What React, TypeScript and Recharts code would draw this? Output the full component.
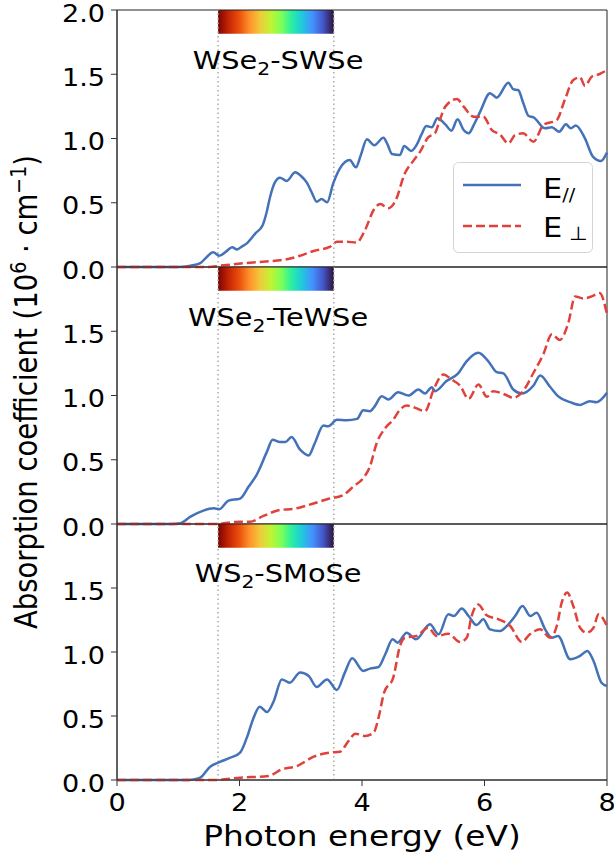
import React from 'react';
import { LineChart, Line, XAxis, YAxis, ReferenceArea, ReferenceLine, ReferenceDot, Legend, Label } from 'recharts';

type Pt = [number, number];

// ---------- data (photon energy eV, absorption 10^6 cm^-1) ----------
const xTicks = [0, 2, 4, 6, 8];
const yTicksTop = [0, 0.5, 1.0, 1.5, 2.0];
const yTicksLower = [0, 0.5, 1.0, 1.5];
const titles = ['WSe₂-SWSe', 'WSe₂-TeWSe', 'WS₂-SMoSe'];
const spectrumRange = [1.65, 3.54];

const swsePar: Pt[] = [[0,0],[1.0,0],[1.2,0.01],[1.36,0.03],[1.47,0.08],[1.57,0.114],[1.67,0.088],[1.78,0.12],[1.88,0.153],[1.96,0.137],[2.04,0.16],[2.12,0.184],[2.26,0.262],[2.38,0.327],[2.44,0.42],[2.5,0.547],[2.58,0.66],[2.66,0.695],[2.77,0.67],[2.91,0.737],[3.0,0.71],[3.1,0.656],[3.18,0.58],[3.26,0.508],[3.34,0.529],[3.43,0.503],[3.53,0.651],[3.64,0.768],[3.8,0.833],[3.9,0.776],[3.98,0.87],[4.08,0.994],[4.2,0.947],[4.35,1.006],[4.42,0.95],[4.49,0.879],[4.62,0.872],[4.69,0.942],[4.8,0.903],[4.89,0.949],[4.97,1.03],[5.05,1.097],[5.14,1.087],[5.23,1.157],[5.36,1.11],[5.46,1.061],[5.56,1.149],[5.66,1.066],[5.74,1.04],[5.83,1.11],[5.93,1.209],[6.09,1.352],[6.2,1.318],[6.39,1.434],[6.47,1.383],[6.55,1.377],[6.63,1.28],[6.72,1.175],[6.8,1.165],[6.99,1.079],[7.1,1.087],[7.22,1.053],[7.33,1.11],[7.41,1.079],[7.49,1.102],[7.64,1.001],[7.77,0.859],[7.9,0.825],[8.0,0.89]];
const swsePerp: Pt[] = [[0,0],[1.5,0],[1.68,0.01],[2.17,0.034],[2.77,0.06],[2.99,0.088],[3.21,0.125],[3.48,0.158],[3.59,0.197],[3.75,0.197],[3.91,0.19],[4.05,0.288],[4.19,0.444],[4.3,0.49],[4.43,0.457],[4.54,0.508],[4.7,0.729],[4.84,0.828],[4.95,0.898],[5.08,1.009],[5.19,1.04],[5.27,1.144],[5.36,1.248],[5.55,1.307],[5.66,1.248],[5.82,1.17],[5.98,1.17],[6.12,1.066],[6.25,1.032],[6.39,0.962],[6.5,1.027],[6.63,1.04],[6.8,0.975],[6.96,1.105],[7.18,1.144],[7.31,1.3],[7.45,1.455],[7.56,1.476],[7.64,1.409],[7.75,1.481],[7.88,1.502],[8.0,1.533]];

const tewsePar: Pt[] = [[0,0],[0.9,0],[1.03,0.005],[1.2,0.057],[1.41,0.104],[1.58,0.122],[1.67,0.115],[1.82,0.182],[2.01,0.198],[2.15,0.292],[2.28,0.383],[2.45,0.565],[2.54,0.656],[2.66,0.638],[2.75,0.638],[2.85,0.677],[2.99,0.578],[3.13,0.534],[3.23,0.63],[3.37,0.766],[3.45,0.76],[3.59,0.812],[3.75,0.807],[3.92,0.818],[4.02,0.885],[4.13,0.878],[4.21,0.917],[4.32,0.995],[4.43,0.969],[4.59,1.026],[4.76,1.0],[4.92,1.047],[5.03,1.016],[5.14,1.065],[5.19,1.034],[5.38,1.112],[5.57,1.172],[5.71,1.268],[5.9,1.333],[6.06,1.268],[6.2,1.182],[6.31,1.172],[6.47,1.047],[6.61,1.016],[6.8,1.078],[6.91,1.156],[7.07,1.068],[7.2,0.995],[7.4,0.948],[7.56,0.927],[7.72,0.956],[7.83,0.948],[8.0,1.021]];
const tewsePerp: Pt[] = [[0,0],[1.6,0],[2.01,0.018],[2.17,0.018],[2.39,0.063],[2.66,0.109],[2.88,0.117],[3.13,0.148],[3.43,0.193],[3.7,0.227],[3.86,0.292],[4.02,0.357],[4.13,0.448],[4.24,0.63],[4.38,0.747],[4.51,0.812],[4.62,0.89],[4.73,0.922],[4.87,0.904],[5.03,0.878],[5.17,1.047],[5.33,1.164],[5.46,1.125],[5.6,1.078],[5.74,0.974],[5.9,1.086],[6.04,0.99],[6.14,1.034],[6.33,1.008],[6.47,0.982],[6.63,1.034],[6.8,1.177],[6.96,1.32],[7.1,1.477],[7.23,1.432],[7.37,1.568],[7.48,1.771],[7.61,1.755],[7.75,1.771],[7.88,1.797],[8.0,1.633]];

const smosePar: Pt[] = [[0,0],[1.15,0],[1.25,0.005],[1.36,0.018],[1.52,0.104],[1.68,0.141],[1.85,0.174],[2.01,0.214],[2.12,0.331],[2.23,0.487],[2.33,0.573],[2.45,0.531],[2.56,0.617],[2.69,0.786],[2.82,0.76],[2.99,0.839],[3.13,0.812],[3.26,0.727],[3.43,0.786],[3.59,0.703],[3.72,0.839],[3.84,0.951],[4.02,0.852],[4.13,0.87],[4.27,0.883],[4.38,0.982],[4.5,1.099],[4.58,1.073],[4.73,1.151],[4.88,1.099],[5.11,1.216],[5.25,1.138],[5.41,1.294],[5.5,1.281],[5.63,1.339],[5.74,1.281],[5.87,1.211],[5.98,1.255],[6.09,1.177],[6.25,1.164],[6.39,1.216],[6.5,1.281],[6.62,1.359],[6.75,1.281],[6.85,1.307],[6.99,1.177],[7.1,1.112],[7.2,1.125],[7.4,0.943],[7.56,0.969],[7.68,1.008],[7.78,0.93],[7.91,0.76],[8.0,0.734]];
const smosePerp: Pt[] = [[0,0],[1.6,0],[2.01,0.018],[2.47,0.031],[2.69,0.083],[2.94,0.109],[3.21,0.182],[3.48,0.214],[3.64,0.221],[3.78,0.305],[3.89,0.362],[4.05,0.344],[4.19,0.37],[4.27,0.487],[4.36,0.682],[4.51,0.8],[4.62,1.047],[4.7,1.112],[4.89,1.125],[5.08,1.19],[5.22,1.125],[5.41,1.143],[5.6,1.078],[5.71,1.112],[5.79,1.281],[5.9,1.372],[6.03,1.289],[6.23,1.255],[6.42,1.203],[6.61,1.078],[6.74,1.138],[6.91,1.177],[7.07,1.112],[7.18,1.203],[7.26,1.385],[7.35,1.464],[7.45,1.359],[7.56,1.19],[7.67,1.151],[7.78,1.19],[7.86,1.294],[8.0,1.203]];

// reversed turbo colour stops for the visible-light bar
const spectrumColors = ['#7a0403', '#c42503', '#ea4f0d', '#fe922a', '#f1ca3a', '#c1f334', '#7eff55', '#29efa2', '#1fc8de', '#4490fe', '#4454c4', '#30123b'];

// ---------- styling ----------
const BLUE = '#4372b9';
const RED = '#e0413a';
const FONT = '"DejaVu Sans", sans-serif';
const SX = 1.13;
const AX = '#333';

const toPts = (a: Pt[]) => a.map(([e, v]) => ({ e, v }));

const YTick = (props: any) => {
  const { x, y, payload } = props;
  return (
    <text transform={`translate(${x},${y}) scale(${SX},1)`} textAnchor="end" dy="0.48em" fontSize={24} fill="#000" fontFamily={FONT}>
      {Number(payload.value).toFixed(1)}
    </text>
  );
};

const XTick = (props: any) => {
  const { x, y, payload } = props;
  return (
    <text transform={`translate(${x},${y}) scale(${SX},1)`} textAnchor="middle" dy="0.73em" fontSize={24} fill="#000" fontFamily={FONT}>
      {payload.value}
    </text>
  );
};

const XLabelC = (props: any) => {
  const vb = props.viewBox || { x: 117, y: 780, width: 490, height: 70 };
  const cx = vb.x + vb.width / 2;
  const y = vb.y + 66;
  return (
    <text transform={`translate(${cx},${y}) scale(${SX},1)`} textAnchor="middle" fontSize={29} fill="#000" fontFamily={FONT}>
      Photon energy (eV)
    </text>
  );
};

const YLabelC = (props: any) => {
  const vb = props.viewBox || { x: 0, y: 267, width: 117, height: 257 };
  const cy = vb.y + vb.height / 2 - 3.5;
  return (
    <text transform={`translate(26,${cy}) scale(${SX},1) rotate(-90)`} textAnchor="middle" dy="0.36em" fontSize={27.5} fill="#000" fontFamily={FONT}>
      Absorption coefficient (10<tspan fontSize={19} dy={-10}>6</tspan><tspan dy={10}> · cm</tspan><tspan fontSize={19} dy={-10}>−1</tspan><tspan dy={10}>)</tspan>
    </text>
  );
};

const makeTitle = (text: string) => (props: any) => {
  const vb = props.viewBox || { x: 0, y: 0, width: 0, height: 0 };
  const cx = vb.x + (vb.width || 0) / 2;
  const cy = vb.y + (vb.height || 0) / 2;
  const [head, tail] = text.split('₂');
  return (
    <text transform={`translate(${cx},${cy}) scale(${SX},1)`} textAnchor="middle" dy="0.36em" fontSize={25.5} fill="#000" fontFamily={FONT}>
      {head}<tspan fontSize={18} dy={6}>2</tspan><tspan dy={-6}>{tail}</tspan>
    </text>
  );
};

const LegendContent = (props: any) => {
  const items = props.payload || [];
  return (
    <svg width={140} height={91} style={{ display: 'block' }}>
      <rect x={0.5} y={0.5} width={139} height={90} rx={5} ry={5} fill="#fff" fillOpacity={0.85} stroke="#d4d4d4" strokeWidth={1} />
      {items.map((it: any, i: number) => {
        const ly = i === 0 ? 23 : 64;
        const ty = i === 0 ? 36 : 75;
        const dash = it.payload && it.payload.strokeDasharray;
        return (
          <g key={i}>
            <line x1={10} x2={68} y1={ly} y2={ly} stroke={it.color} strokeWidth={2.5} strokeDasharray={dash} />
            <text transform={`translate(90,${ty}) scale(${SX},1)`} fontSize={27} fill="#000" fontFamily={FONT}>
              E
              {i === 0 ? (
                <tspan fontSize={17} dy={3}>//</tspan>
              ) : (
                <tspan fontSize={19} dx={6} dy={3}>⊥</tspan>
              )}
            </text>
          </g>
        );
      })}
    </svg>
  );
};

type PanelProps = {
  top: number;
  height: number;
  mb: number;
  par: Pt[];
  perp: Pt[];
  title: string;
  yTicks: number[];
  bottom?: boolean;
  yLabel?: boolean;
  legend?: boolean;
  gid: string;
};

function Panel({ top, height, mb, par, perp, title, yTicks, bottom, yLabel, legend, gid }: PanelProps) {
  return (
    <div style={{ position: 'absolute', left: 0, top }}>
      <LineChart width={614} height={height} margin={{ top: 10, right: 7, left: 0, bottom: mb }}>
        <defs>
          <linearGradient id={gid} x1="0" y1="0" x2="1" y2="0">
            {spectrumColors.map((c, i) => (
              <stop key={i} offset={`${(i / (spectrumColors.length - 1)) * 100}%`} stopColor={c} />
            ))}
          </linearGradient>
        </defs>
        <XAxis
          type="number"
          dataKey="e"
          domain={[0, 8]}
          ticks={xTicks}
          interval={0}
          hide={!bottom}
          height={70}
          tickSize={6}
          tickMargin={7}
          tick={<XTick />}
          stroke={AX}
          tickLine={{ stroke: AX }}
          axisLine={{ stroke: AX }}
        >
          {bottom ? <Label content={XLabelC} /> : null}
        </XAxis>
        <YAxis
          type="number"
          domain={[0, 2]}
          ticks={yTicks}
          interval={0}
          width={117}
          tickSize={6}
          tickMargin={6}
          tick={<YTick />}
          stroke={AX}
          tickLine={{ stroke: AX }}
          axisLine={{ stroke: AX }}
        >
          {yLabel ? <Label content={YLabelC} /> : null}
        </YAxis>
        <ReferenceLine x={spectrumRange[0]} stroke="#aaaaaa" strokeWidth={1.5} strokeDasharray="1.5 3" />
        <ReferenceLine x={spectrumRange[1]} stroke="#aaaaaa" strokeWidth={1.5} strokeDasharray="1.5 3" />
        <ReferenceArea x1={spectrumRange[0]} x2={spectrumRange[1]} y1={1.815} y2={2} fill={`url(#${gid})`} fillOpacity={1} stroke="none" />
        <ReferenceArea x1={0} x2={8} y1={0} y2={2} fill="none" stroke="#222" strokeWidth={1} />
        <ReferenceDot x={2.63} y={1.615} r={0} fill="none" stroke="none" label={makeTitle(title)} />
        <Line
          data={toPts(par)}
          dataKey="v"
          name="E//"
          type="monotone"
          stroke={BLUE}
          strokeWidth={2.5}
          dot={false}
          activeDot={false}
          isAnimationActive={false}
        />
        <Line
          data={toPts(perp)}
          dataKey="v"
          name="E⊥"
          type="monotone"
          stroke={RED}
          strokeWidth={2.5}
          strokeDasharray="9 4"
          dot={false}
          activeDot={false}
          isAnimationActive={false}
        />
        {legend ? (
          <Legend
            layout="vertical"
            align="center"
            verticalAlign="middle"
            content={LegendContent}
            wrapperStyle={{ left: 453, top: 162, width: 140, height: 91 }}
          />
        ) : null}
      </LineChart>
    </div>
  );
}

export default function App() {
  return (
    <div style={{ position: 'absolute', left: 0, top: 0, width: 614, height: 859, background: '#fff', fontFamily: FONT }}>
      <style>{`.recharts-surface { overflow: visible; } .recharts-wrapper { overflow: visible; }`}</style>
      <Panel top={0} height={270} mb={3} par={swsePar} perp={swsePerp} title={titles[0]} yTicks={yTicksTop} legend gid="spec0" />
      <Panel top={257} height={270} mb={3} par={tewsePar} perp={tewsePerp} title={titles[1]} yTicks={yTicksLower} yLabel gid="spec1" />
      <Panel top={514} height={345} mb={9} par={smosePar} perp={smosePerp} title={titles[2]} yTicks={yTicksLower} bottom gid="spec2" />
    </div>
  );
}
